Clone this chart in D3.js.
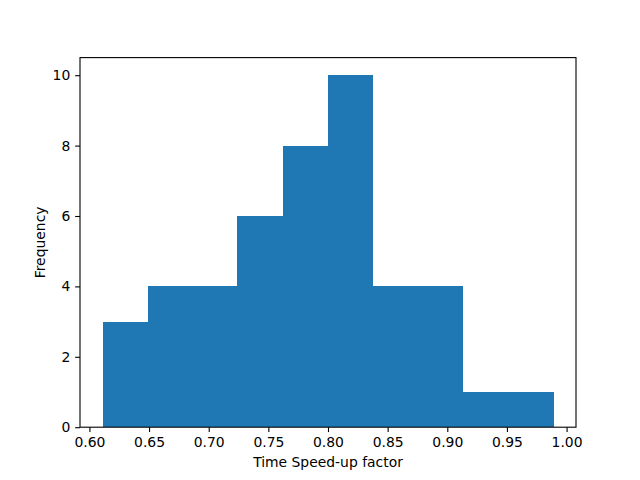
<!DOCTYPE html>
<html><head><meta charset="utf-8">
<script src="https://cdn.jsdelivr.net/npm/d3@7"></script>
<style>body{margin:0;background:#fff}svg{display:block}text{font-family:"DejaVu Sans",sans-serif}</style>
</head><body>
<script>
const binEdges = [0.611, 0.649, 0.686, 0.724, 0.762, 0.800, 0.837, 0.875, 0.913, 0.951, 0.989];
const counts = [3, 4, 4, 6, 8, 10, 4, 4, 1, 1];
const xTicks = [0.60, 0.65, 0.70, 0.75, 0.80, 0.85, 0.90, 0.95, 1.00];
const yTicks = [0, 2, 4, 6, 8, 10];
const xLabel = "Time Speed-up factor";
const yLabel = "Frequency";

const W = 640, H = 480;
const m = {left: 80, right: 576, top: 57.6, bottom: 427.2};
const svg = d3.select("body").append("svg").attr("width", W).attr("height", H);

const lo = binEdges[0], hi = binEdges[binEdges.length - 1];
const pad = (hi - lo) * 0.05;
const x = d3.scaleLinear().domain([lo - pad, hi + pad]).range([m.left, m.right]);
const y = d3.scaleLinear().domain([0, d3.max(counts) * 1.05]).range([m.bottom, m.top]);

svg.append("g").attr("shape-rendering", "crispEdges").selectAll("rect").data(counts).join("rect")
  .attr("x", (d, i) => x(binEdges[i]))
  .attr("width", (d, i) => x(binEdges[i + 1]) - x(binEdges[i]) + 0.5)
  .attr("y", d => y(d))
  .attr("height", d => y(0) - y(d))
  .attr("fill", "#1f77b4");

const fs = 13.9;
const xa = svg.append("g").attr("transform", `translate(0,${m.bottom})`)
  .call(d3.axisBottom(x).tickValues(xTicks).tickFormat(d3.format(".2f")).tickSizeOuter(0).tickSize(4.86).tickPadding(4.86));
const ya = svg.append("g").attr("transform", `translate(${m.left},0)`)
  .call(d3.axisLeft(y).tickValues(yTicks).tickFormat(d3.format("d")).tickSizeOuter(0).tickSize(4.86).tickPadding(4.86));
[xa, ya].forEach(a => {
  a.select(".domain").remove();
  a.selectAll("text").attr("font-size", fs).attr("fill", "#000").attr("font-family", "DejaVu Sans");
  a.selectAll("line").attr("stroke", "#000").attr("stroke-width", 1.1);
});

svg.append("rect").attr("x", m.left).attr("y", m.top)
  .attr("width", m.right - m.left).attr("height", m.bottom - m.top)
  .attr("fill", "none").attr("stroke", "#000").attr("stroke-width", 1.1);

svg.append("text").attr("x", (m.left + m.right) / 2).attr("y", 467)
  .attr("text-anchor", "middle").attr("font-size", fs).text(xLabel);
svg.append("text").attr("transform", `translate(45,${(m.top + m.bottom) / 2}) rotate(-90)`)
  .attr("text-anchor", "middle").attr("font-size", fs).text(yLabel);
</script>
</body></html>
